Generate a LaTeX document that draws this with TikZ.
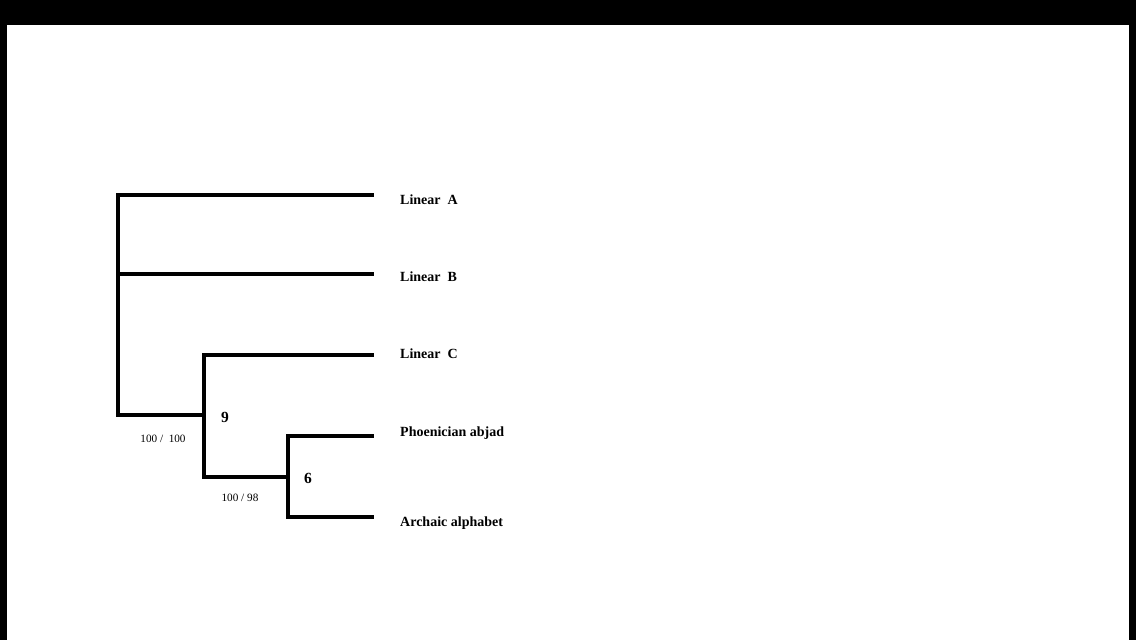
\documentclass[tikz,border=0pt]{standalone}
\usepackage{fontspec}
\setmainfont{Liberation Serif}
\begin{document}
\begin{tikzpicture}[x=1pt,y=-1pt,
  branch/.style={line width=3.6pt,line cap=rect,line join=miter},
  leaf/.style={anchor=west,inner sep=0pt,font=\fontsize{14}{16}\selectfont\bfseries},
  cladenum/.style={inner sep=0pt,font=\fontsize{15.5}{17}\selectfont\bfseries},
  support/.style={inner sep=0pt,font=\fontsize{11.2}{13}\selectfont}]
\useasboundingbox (0,0) rectangle (1136,640);
\fill[black] (0,0) rectangle (1136,25);
\fill[black] (0,0) rectangle (7,640);
\fill[black] (1129,0) rectangle (1136,640);
% internal coordinates
\coordinate (rA) at (118,195);
\coordinate (rB) at (118,274);
\coordinate (rBot) at (118,415);
\coordinate (n9top) at (204,355);
\coordinate (n9mid) at (204,415);
\coordinate (n9bot) at (204,477);
\coordinate (n6top) at (288,436);
\coordinate (n6mid) at (288,477);
\coordinate (n6bot) at (288,517);
\coordinate (eA) at (372,195);
\coordinate (eB) at (372,274);
\coordinate (eC) at (372,355);
\coordinate (eP) at (372,436);
\coordinate (eR) at (372,517);
% tree
\draw[branch] (eA) -- (rA) -- (rBot) -- (n9mid);
\draw[branch] (rB) -- (eB);
\draw[branch] (eC) -- (n9top) -- (n9bot) -- (n6mid);
\draw[branch] (eP) -- (n6top) -- (n6bot) -- (eR);
% leaves
\node[leaf] (lA) at (400,200) {Linear\ \ A};
\node[leaf] (lB) at (400,277) {Linear\ \ B};
\node[leaf] (lC) at (400,354) {Linear\ \ C};
\node[leaf] (lP) at (400,433) {Phoenician abjad};
\node[leaf] (lR) at (400,523) {Archaic alphabet};
% clade labels
\node[cladenum] (c9) at (225,417) {9};
\node[cladenum] (c6) at (308,478) {6};
\node[support] (s9) at (163,439) {100 /\ \ 100};
\node[support] (s6) at (240,498) {100 / 98};
\end{tikzpicture}
\end{document}
